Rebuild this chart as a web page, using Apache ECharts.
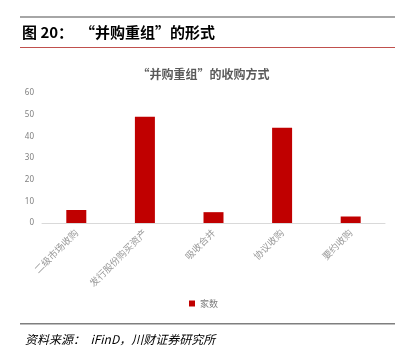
<!DOCTYPE html>
<html><head><meta charset="utf-8">
<script src="https://cdn.jsdelivr.net/npm/echarts@6/dist/echarts.min.js"></script>
<style>html,body{margin:0;padding:0;background:#fff}#c{width:407px;height:363px}</style>
</head><body><div id="c"></div>
<script>
const categories = ['二级市场收购','发行股份购买资产','吸收合并','协议收购','要约收购'];
const values = [6, 49, 5, 44, 3];
const yTicks = [0, 10, 20, 30, 40, 50, 60];
const seriesName = '家数';

const chart = echarts.init(document.getElementById('c'));
chart.setOption({
  animation: false,
  backgroundColor: '#fff',
  title: {
    text: '“并购重组”的收购方式',
    left: 'center', top: 63,
    textStyle: {fontFamily: 'Noto Sans CJK SC', fontSize: 12, fontWeight: 'bold', color: '#595959'}
  },
  legend: {
    data: [seriesName], left: 'center', top: 294,
    itemWidth: 6, itemHeight: 6, icon: 'rect', itemGap: 4,
    textStyle: {fontFamily: 'Noto Sans CJK SC', fontSize: 9, color: '#7f7f7f'}
  },
  grid: {left: 42, right: 22, top: 93, bottom: 140},
  xAxis: {
    type: 'category', data: categories,
    axisLine: {lineStyle: {color: '#d9d9d9', width: 1}},
    axisTick: {show: false},
    axisLabel: {rotate: 45, interval: 0, margin: 8, fontFamily: 'Noto Sans CJK SC', fontSize: 9.5, color: '#999999'}
  },
  yAxis: {
    type: 'value', min: 0, max: 60, interval: 10,
    axisLine: {show: false}, axisTick: {show: false}, splitLine: {show: false},
    axisLabel: {fontFamily: 'Noto Sans', fontSize: 8, color: '#7f7f7f', margin: 8,
      formatter: v => yTicks.includes(v) ? String(v) : ''}
  },
  series: [{
    name: seriesName, type: 'bar', data: values, barWidth: 20,
    itemStyle: {color: '#c00000'}
  }],
  graphic: [
    {type: 'rect', shape: {x: 20, y: 16, width: 375, height: 2}, style: {fill: '#a6a6a6'}},
    {type: 'text', left: 22, top: 25, style: {text: '图 20：  “并购重组”的形式', font: 'bold 15px "Noto Sans CJK SC"', fill: '#000'}},
    {type: 'rect', shape: {x: 20, y: 47, width: 375, height: 1}, style: {fill: '#c0504d'}},
    {type: 'rect', shape: {x: 20, y: 323, width: 375, height: 1.5}, style: {fill: '#7f7f7f'}},
    {type: 'text', left: 25, top: 333, style: {text: '资料来源：  iFinD，川财证券研究所', font: 'italic 12px "Noto Sans CJK SC"', fill: '#000'}}
  ]
});
</script></body></html>
